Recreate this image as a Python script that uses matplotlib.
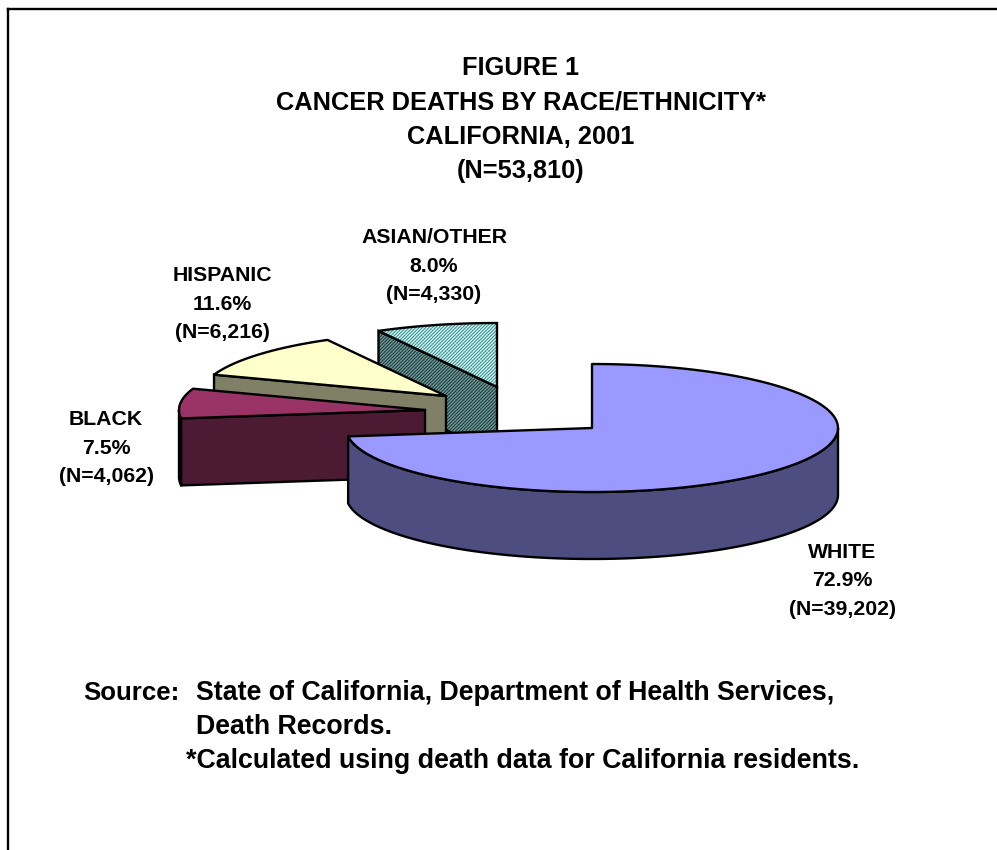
# Cancer deaths by race/ethnicity, exploded 3D style pie
import matplotlib
matplotlib.use('Agg')
import matplotlib.pyplot as plt
from matplotlib.patches import Polygon
import numpy as np

plt.rcParams['font.family'] = ['Liberation Sans', 'DejaVu Sans']
plt.rcParams['hatch.linewidth'] = 0.7

groups = ['WHITE', 'BLACK', 'HISPANIC', 'ASIAN/OTHER']
percents = [72.9, 7.5, 11.6, 8.0]
deaths = [39202, 4062, 6216, 4330]

title_lines = ['FIGURE 1', 'CANCER DEATHS BY RACE/ETHNICITY*', 'CALIFORNIA, 2001', '(N=53,810)']

# pixel layout of the slices
RX, RY, DEPTH = 246, 64, 67
LW = 1.7
apex = {'WHITE': (592, 428), 'BLACK': (425, 410), 'HISPANIC': (446, 396), 'ASIAN/OTHER': (497, 387)}
top_col = {'WHITE': '#9999ff', 'BLACK': '#993366', 'HISPANIC': '#ffffcc', 'ASIAN/OTHER': '#d4f0ee'}
side_col = {'WHITE': '#4d4d80', 'BLACK': '#4d1a33', 'HISPANIC': '#808066', 'ASIAN/OTHER': '#6f9a9a'}
hatch_col = {'top': '#2f8f8f', 'side': '#1a3333'}
label_pos = {'WHITE': (842, 581), 'BLACK': (106, 448), 'HISPANIC': (222, 304), 'ASIAN/OTHER': (434, 266)}


def arc(cx, cy, a0, a1):
    # angles clockwise from 12 o'clock, in degrees
    t = np.radians(np.linspace(a0, a1, 120))
    return np.column_stack([cx + RX * np.sin(t), cy - RY * np.cos(t)])


def hatched(ax, pts, face, hatch_edge):
    ax.add_patch(Polygon(pts, fc=face, ec=hatch_edge, lw=0, hatch='//////////', zorder=2))
    ax.add_patch(Polygon(pts, fc='none', ec='black', lw=LW, zorder=2))


def draw_slice(ax, name, a0, a1):
    cx, cy = apex[name]
    is_hatched = name == 'ASIAN/OTHER'
    drop = np.array([0, DEPTH])
    pts = arc(cx, cy, a0, a1)

    # outer wall, only the part on the front half of the ellipse
    if a0 < 270:
        front = arc(cx, cy, max(a0, 90), min(a1, 270))
        wall = np.vstack([front, (front + drop)[::-1]])
        ax.add_patch(Polygon(wall, fc=side_col[name], ec='black', lw=LW, joinstyle='round', zorder=2))

    # cut face that looks towards the viewer
    if name != 'WHITE':
        face = [(cx, cy), pts[0], pts[0] + drop, (cx, cy + DEPTH)]
        if is_hatched:
            hatched(ax, face, side_col[name], hatch_col['side'])
        else:
            ax.add_patch(Polygon(face, fc=side_col[name], ec='black', lw=LW, zorder=2))

    top = np.vstack([[(cx, cy)], pts])
    if is_hatched:
        hatched(ax, top, top_col[name], hatch_col['top'])
    else:
        ax.add_patch(Polygon(top, fc=top_col[name], ec='black', lw=LW, joinstyle='round', zorder=2))


fig = plt.figure(figsize=(9.97, 8.5), dpi=100)
ax = fig.add_axes([0, 0, 1, 1])
ax.set_xlim(0, 997)
ax.set_ylim(850, 0)
ax.axis('off')

# frame, open on the right and bottom because the page is cropped
ax.plot([8, 8], [850, 9], color='black', lw=1.7, zorder=1)
ax.plot([8, 997], [9, 9], color='black', lw=1.7, zorder=1)

# slice angles from the percentages, white starts at 12 o'clock and goes clockwise
ends = np.cumsum(percents) / sum(percents) * 360
starts = np.concatenate([[0], ends[:-1]])
angles = dict(zip(groups, zip(starts, ends)))

# back to front
for name in ['ASIAN/OTHER', 'HISPANIC', 'BLACK', 'WHITE']:
    draw_slice(ax, name, *angles[name])

for name, pct, n in zip(groups, percents, deaths):
    x, y = label_pos[name]
    ax.text(x, y, '%s\n%.1f%%\n(N=%s)' % (name, pct, format(n, ',')), ha='center', va='center',
            fontsize=15.3, fontweight='bold', linespacing=1.62, zorder=3)

for i, line in enumerate(title_lines):
    ax.text(521, 67.5 + i * 34.5, line, ha='center', va='center', fontsize=18.3, fontweight='bold')

ax.text(83, 693, 'Source:', va='center', fontsize=18.6, fontweight='bold')
ax.text(196, 693, 'State of California, Department of Health Services,', va='center', fontsize=19.25, fontweight='bold')
ax.text(196, 727, 'Death Records.', va='center', fontsize=19.25, fontweight='bold')
ax.text(186, 761, '*Calculated using death data for California residents.', va='center', fontsize=19.25, fontweight='bold')

fig.savefig('out.png', dpi=100)
